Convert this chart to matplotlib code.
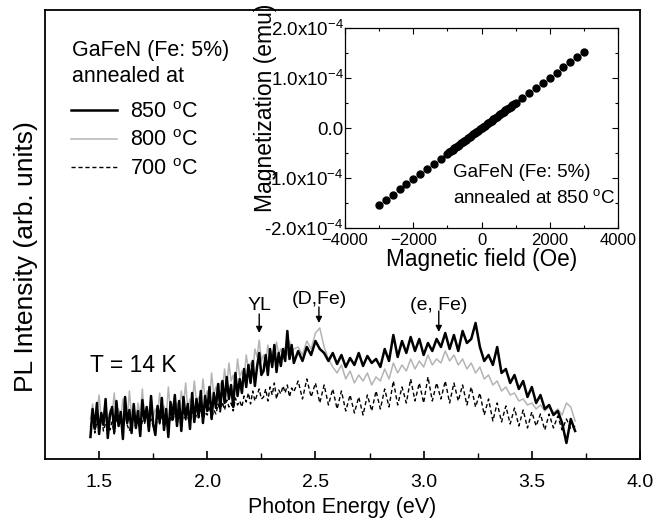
import numpy as np
import matplotlib.pyplot as plt

plt.rcParams['font.family'] = ['Liberation Sans', 'DejaVu Sans']
plt.rcParams['mathtext.fontset'] = 'custom'
plt.rcParams['mathtext.rm'] = 'Liberation Sans'
plt.rcParams['mathtext.it'] = 'Liberation Sans:italic'

# photon energy grid (eV): 0.01 steps up to 2.40, then 0.02 steps
energy = np.concatenate([np.arange(146, 241) / 100, np.arange(242, 371, 2) / 100])

# PL intensity (arb. units)
pl_850 = [22, 50, 30, 56, 25, 46, 34, 60, 21, 44,
          52, 27, 58, 33, 47, 20, 62, 36, 49, 26,
          55, 31, 48, 23, 59, 38, 52, 28, 63, 35,
          24, 53, 37, 61, 29, 50, 22, 57, 40, 64,
          33, 58, 28, 62, 41, 55, 30, 66, 37, 60,
          42, 68, 36, 63, 48, 72, 40, 66, 51, 75,
          50, 78, 56, 82, 60, 74, 52, 86, 63, 80,
          66, 90, 72, 94, 76, 98, 73, 92, 106, 84,
          88, 104, 84, 110, 92, 114, 87, 106, 93, 110,
          98, 128, 100, 114, 96,
          108, 98, 112, 104, 118, 110, 106, 98, 106, 95,
          104, 92, 101, 94, 106, 93, 103, 96, 100, 92,
          110, 98, 124, 102, 118, 106, 122, 108, 120, 104,
          116, 108, 120, 112, 126, 110, 124, 108, 128, 116,
          120, 136, 112, 98, 104, 94, 112, 86, 90, 76,
          84, 70, 78, 62, 72, 56, 64, 50, 54, 44,
          48, 36, 16, 40, 28]

pl_800 = [40, 55, 34, 47, 64, 38, 45, 58, 36, 49,
          44, 66, 38, 50, 41, 60, 46, 39, 68, 43,
          48, 37, 56, 44, 70, 40, 51, 45, 62, 42,
          50, 44, 66, 46, 53, 40, 72, 48, 55, 45,
          56, 48, 68, 52, 76, 50, 60, 54, 78, 57,
          62, 55, 80, 60, 68, 58, 86, 64, 72, 66,
          76, 68, 90, 72, 96, 78, 84, 75, 100, 82,
          88, 80, 104, 90, 96, 86, 110, 102, 119, 98,
          104, 96, 114, 100, 108, 98, 117, 105, 110, 100,
          112, 104, 118, 106, 110,
          112, 104, 118, 110, 126, 131, 112, 100, 92, 86,
          94, 80, 88, 76, 84, 78, 86, 74, 82, 78,
          90, 80, 96, 86, 94, 88, 100, 90, 98, 92,
          104, 94, 100, 96, 108, 98, 104, 94, 100, 90,
          96, 86, 92, 80, 84, 74, 78, 68, 72, 64,
          66, 58, 60, 54, 56, 50, 54, 48, 52, 46,
          50, 44, 56, 52, 38]

pl_700 = [32, 40, 26, 38, 30, 44, 28, 36, 41, 29,
          37, 25, 42, 33, 39, 30, 45, 34, 28, 38,
          41, 31, 44, 27, 38, 35, 46, 30, 40, 33,
          28, 42, 35, 45, 31, 40, 29, 43, 37, 46,
          35, 44, 31, 47, 39, 42, 34, 48, 38, 44,
          41, 50, 37, 47, 44, 53, 40, 49, 45, 55,
          47, 57, 49, 59, 52, 56, 48, 61, 54, 58,
          52, 63, 57, 66, 55, 68, 58, 64, 70, 60,
          62, 70, 58, 72, 64, 76, 60, 69, 65, 73,
          66, 74, 62, 71, 67,
          78, 60, 80, 62, 76, 56, 74, 54, 70, 50,
          68, 48, 64, 46, 62, 44, 64, 48, 68, 50,
          70, 52, 78, 54, 72, 56, 80, 58, 76, 56,
          82, 58, 76, 60, 78, 56, 76, 58, 74, 54,
          72, 52, 66, 44, 60, 38, 56, 37, 53, 35,
          51, 33, 49, 31, 47, 33, 45, 29, 45, 31,
          43, 29, 40, 30, 33]

# inset: M(H) loop
field = [-3000, -2800, -2600, -2400, -2200, -2000, -1800, -1600, -1400, -1200, -1000,
         -950, -900, -850, -800, -750, -700, -650, -600, -550, -500,
         -450, -400, -350, -300, -250, -200, -150, -100, -50, 0,
         50, 100, 150, 200, 250, 300, 350, 400, 450, 500,
         550, 600, 650, 700, 750, 800, 850, 900, 950,
         1000, 1200, 1400, 1600, 1800, 2000, 2200, 2400, 2600, 2800, 3000]
magnet = [-1.53, -1.43, -1.33, -1.22, -1.11, -1.01, -0.91, -0.81, -0.71, -0.61, -0.51,
          -0.48, -0.455, -0.43, -0.405, -0.38, -0.355, -0.33, -0.305, -0.28, -0.255,
          -0.23, -0.20, -0.175, -0.15, -0.125, -0.10, -0.075, -0.05, -0.025, 0.0,
          0.025, 0.05, 0.075, 0.10, 0.125, 0.15, 0.175, 0.20, 0.23, 0.255,
          0.28, 0.305, 0.33, 0.355, 0.38, 0.405, 0.43, 0.455, 0.48,
          0.51, 0.61, 0.71, 0.81, 0.91, 1.01, 1.11, 1.22, 1.33, 1.43, 1.53]

fig = plt.figure(figsize=(6.63, 5.23), dpi=100)
ax = fig.add_axes([0.0679, 0.1224, 0.8974, 0.8585])

l850, = ax.plot(energy, pl_850, color='black', lw=1.8, label=r'850 $^{\rm o}$C', zorder=3)
l800, = ax.plot(energy, pl_800, color='#b4b4b4', lw=1.1, label=r'800 $^{\rm o}$C', zorder=2)
l700, = ax.plot(energy, pl_700, color='black', lw=1.0, ls=(0, (3, 2)),
                label=r'700 $^{\rm o}$C', zorder=2)

ax.set_xlim(1.25, 4.0)
ax.set_ylim(0, 449)
ax.set_xticks([1.5, 2.0, 2.5, 3.0, 3.5, 4.0])
ax.set_xticklabels(['1.5', '2.0', '2.5', '3.0', '3.5', '4.0'])
ax.set_xticks([1.75, 2.25, 2.75, 3.25, 3.75], minor=True)
ax.set_yticks([])
ax.tick_params(axis='x', which='major', direction='in', length=6, width=1.2,
               labelsize=14, pad=11)
ax.tick_params(axis='x', which='minor', direction='in', length=4, width=1.0)
for s in ax.spines.values():
    s.set_linewidth(1.3)
ax.set_xlabel('Photon Energy (eV)', fontsize=15.5, labelpad=4)
ax.set_ylabel('PL Intensity (arb. units)', fontsize=19)
ax.yaxis.set_label_coords(-0.012, 0.45)

# legend header and entries
ax.text(0.0454, 0.881, 'GaFeN (Fe: 5%)\nannealed at', transform=ax.transAxes,
        fontsize=15.5, va='center', ha='left', linespacing=1.34)
leg = ax.legend(handles=[l850, l800, l700], loc='upper left', frameon=False,
                fontsize=15.5, handlelength=2.1, handletextpad=0.6,
                labelspacing=0.35, borderpad=0.4, borderaxespad=0,
                bbox_to_anchor=(0.030, 0.815))

ax.text(1.458, 87, 'T = 14 K', fontsize=16.5)

arrow = dict(arrowstyle='-|>', color='black', lw=1.0, mutation_scale=9,
             shrinkA=0, shrinkB=0)
ax.annotate('', xy=(2.24, 126), xytext=(2.24, 145), arrowprops=arrow)
ax.text(2.24, 145, 'YL', fontsize=14, ha='center', va='bottom')
ax.annotate('', xy=(2.516, 136), xytext=(2.516, 152), arrowprops=arrow)
ax.text(2.516, 151, '(D,Fe)', fontsize=14, ha='center', va='bottom')
ax.annotate('', xy=(3.07, 127), xytext=(3.07, 148), arrowprops=arrow)
ax.text(3.07, 145, '(e, Fe)', fontsize=14, ha='center', va='bottom')

# inset
ins = fig.add_axes([0.5204, 0.564, 0.4118, 0.3824])
ins.plot(field, np.array(magnet) * 1e-4, 'o', color='black', ms=5)
ins.set_xlim(-4000, 4000)
ins.set_ylim(-2e-4, 2e-4)
ins.set_xticks([-4000, -2000, 0, 2000, 4000])
ins.set_xticks([-3000, -1000, 1000, 3000], minor=True)
ins.set_yticks([-2e-4, -1e-4, 0, 1e-4, 2e-4])
ins.set_yticklabels([r'-2.0x10$^{-4}$', r'-1.0x10$^{-4}$', '0.0',
                     r'1.0x10$^{-4}$', r'2.0x10$^{-4}$'])
ins.set_yticks([-1.5e-4, -0.5e-4, 0.5e-4, 1.5e-4], minor=True)
ins.tick_params(which='both', direction='in', top=True, right=True, width=0.8)
ins.tick_params(axis='x', labelsize=12)
ins.tick_params(axis='y', labelsize=13.5, pad=1)
ins.tick_params(which='major', length=4)
ins.tick_params(which='minor', length=2.5)
for s in ins.spines.values():
    s.set_linewidth(0.9)
ins.set_xlabel('Magnetic field (Oe)', fontsize=16.3, labelpad=0)
ins.set_ylabel('Magnetization (emu)', fontsize=16.5)
ins.yaxis.set_label_coords(-0.249, 0.6)
ins.text(-835, -0.88e-4, 'GaFeN (Fe: 5%)', fontsize=13.5, va='center')
ins.text(-835, -1.39e-4, r'annealed at 850 $^{\rm o}$C', fontsize=13.5, va='center')

fig.savefig('out.png', dpi=100)
